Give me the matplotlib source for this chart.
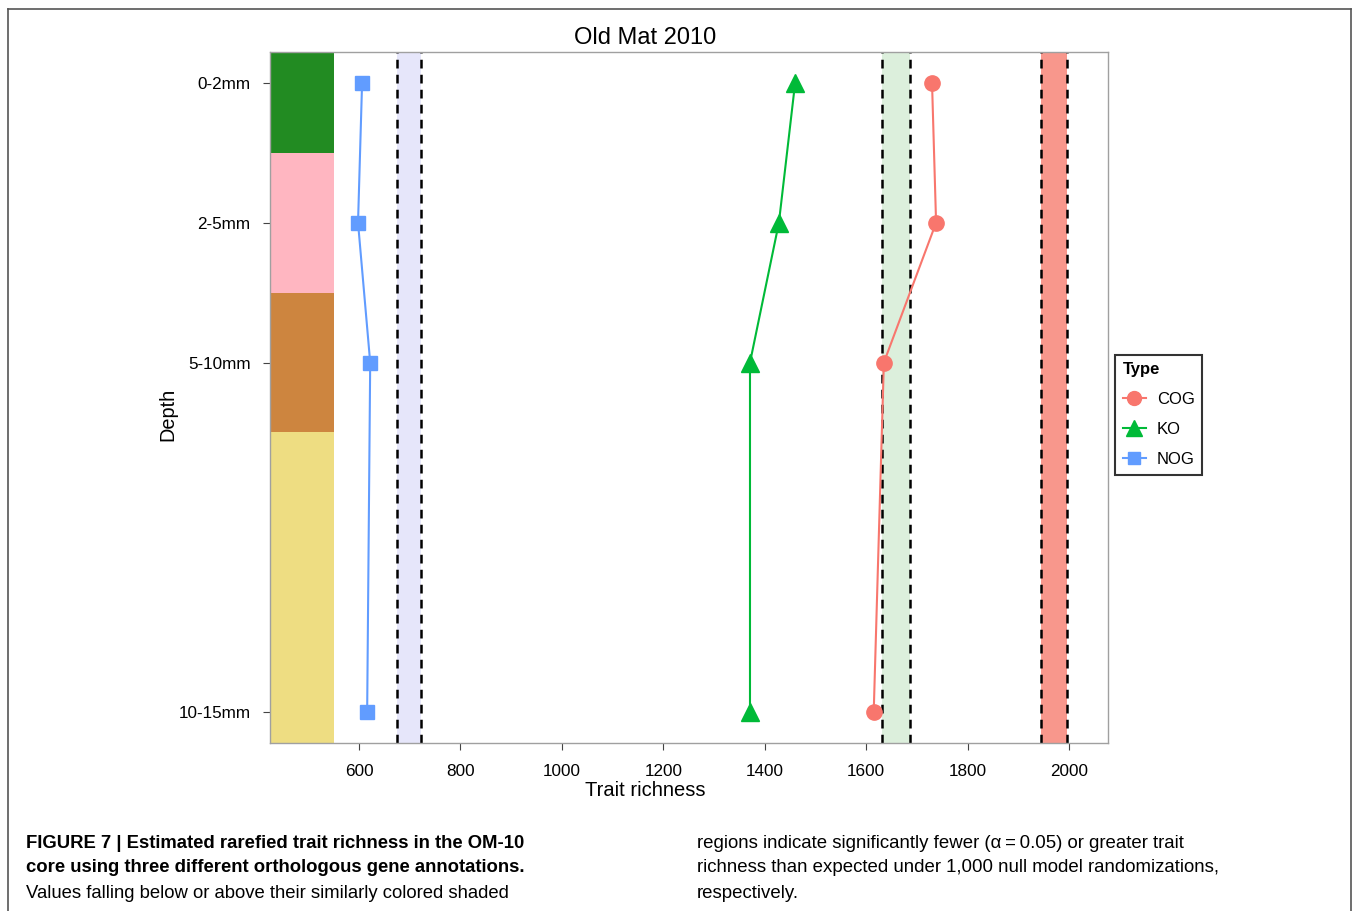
import matplotlib
matplotlib.use("Agg")
import matplotlib.pyplot as plt
from matplotlib.lines import Line2D

plt.rcParams['font.family'] = ['Liberation Sans', 'DejaVu Sans']

# depth categories and their positions on the (inverted) y axis
depths = ["0-2mm", "2-5mm", "5-10mm", "10-15mm"]
depth_pos = [0, 1, 2, 4.5]
depth_colors = ["#228B22", "#FFB6C1", "#CD853F", "#EEDD82"]

# estimated trait richness per annotation
cog = [1730, 1738, 1635, 1615]
ko = [1460, 1428, 1371, 1371]
nog = [606, 598, 622, 616]

# null-model bands (lower, upper)
cog_band = (1945, 1996)
ko_band = (1631, 1687)
nog_band = (675, 723)

series = [
    ("COG", cog, "#F8766D", "o", 11, cog_band, "#F8978C"),
    ("KO", ko, "#00BA38", "^", 13, ko_band, "#DCEFDC"),
    ("NOG", nog, "#619CFF", "s", 10, nog_band, "#E6E6FA"),
]

fig = plt.figure(figsize=(13.55, 9.11), dpi=100)
ax = fig.add_axes([0.1993, 0.1844, 0.6184, 0.7585])

xmin, xmax = 424.5, 2077
ymin, ymax = -0.221, 4.721

# coloured depth strips on the left
edges = [ymin, 0.5, 1.5, 2.5, ymax]
for i, c in enumerate(depth_colors):
    ax.fill_between([xmin, 550], edges[i], edges[i + 1], color=c, lw=0, zorder=1)

handles = []
for name, vals, col, mk, ms, band, bcol in series:
    ax.axvspan(band[0], band[1], color=bcol, lw=0, zorder=1)
    for b in band:
        ax.axvline(b, color="black", lw=1.8, ls=(0, (3.5, 2.5)), zorder=2)
    ax.plot(vals, depth_pos, color=col, lw=1.5, zorder=3)
    ax.plot(vals, depth_pos, color=col, marker=mk, ms=ms, ls="none", zorder=4)
    handles.append(Line2D([], [], color=col, lw=1.5, marker=mk, ms=ms - 1, label=name))

ax.set_xlim(xmin, xmax)
ax.set_ylim(ymax, ymin)
ax.set_xticks([600, 800, 1000, 1200, 1400, 1600, 1800, 2000])
ax.set_yticks(depth_pos)
ax.set_yticklabels(depths)
ax.tick_params(labelsize=12.3, length=5, width=0.8, color="#444444")
ax.tick_params(axis="x", pad=10)
ax.tick_params(axis="y", pad=9)
for s in ax.spines.values():
    s.set_color("#a0a0a0")
    s.set_linewidth(1.0)

fig.text(645 / 1355, 1 - 38 / 911, "Old Mat 2010", fontsize=17, ha="center", va="center")
fig.text(645 / 1355, 1 - 791 / 911, "Trait richness", fontsize=14.5, ha="center", va="center")
fig.text(0.124, 0.545, "Depth", fontsize=14.3, rotation=90, ha="center", va="center")

leg = fig.legend(handles=handles, title="Type", loc="center left",
                 bbox_to_anchor=(1115 / 1355, 1 - 414.5 / 911), borderaxespad=0,
                 fontsize=12, title_fontsize=12,
                 frameon=True, fancybox=False, edgecolor="black",
                 handlelength=1.4, handletextpad=0.65, borderpad=0.45, labelspacing=0.9)
leg.get_frame().set_linewidth(1.5)
leg.get_title().set_fontweight("bold")
leg._legend_box.align = "left"

# outer frame around the figure panel
for xs, ys in [([0.006, 0.997], [0.990, 0.990]),
               ([0.006, 0.006], [0.0, 0.990]),
               ([0.997, 0.997], [0.0, 0.990])]:
    fig.add_artist(Line2D(xs, ys, transform=fig.transFigure, color="#555555", lw=1.2))

# caption
cap_left = ["FIGURE 7 | Estimated rarefied trait richness in the OM-10",
            "core using three different orthologous gene annotations.",
            "Values falling below or above their similarly colored shaded"]
cap_right = ["regions indicate significantly fewer (\u03b1\u2009=\u20090.05) or greater trait",
             "richness than expected under 1,000 null model randomizations,",
             "respectively."]
line_y = [843, 868, 893]
for i, t in enumerate(cap_left):
    fig.text(26 / 1355, 1 - line_y[i] / 911, t, fontsize=13.3,
             fontweight="bold" if i < 2 else "normal", va="center", ha="left")
for i, t in enumerate(cap_right):
    fig.text(697 / 1355, 1 - line_y[i] / 911, t, fontsize=13.4, va="center", ha="left")

fig.savefig("out.png", dpi=100)
